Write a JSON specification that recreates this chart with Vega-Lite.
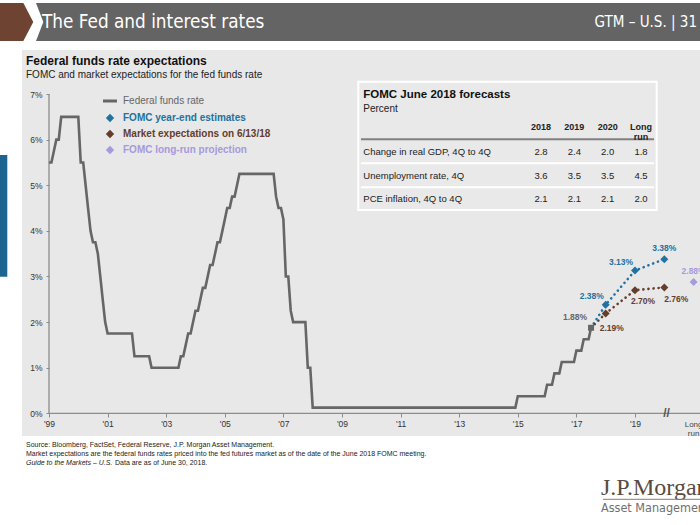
{
  "$schema": "https://vega.github.io/schema/vega-lite/v6.json",
  "width": 678,
  "height": 386,
  "autosize": {"type": "none"},
  "padding": {"left": 22, "top": 50, "right": 0, "bottom": 89},
  "background": "#ffffff",
  "config": {
    "font": "Liberation Sans",
    "view": {"fill": "#e8e8e8", "stroke": null}
  },
  "title": {
    "text": "Federal funds rate expectations",
    "subtitle": "FOMC and market expectations for the fed funds rate",
    "anchor": "start", "frame": "group", "orient": "top",
    "offset": -78, "dx": 4,
    "font": "Liberation Sans", "fontSize": 12, "fontWeight": "bold", "color": "#111111",
    "subtitleFont": "Liberation Sans", "subtitleFontSize": 10, "subtitleColor": "#222222", "subtitlePadding": 2
  },
  "datasets": {
    "rates": [
      {"series": "Federal funds rate", "kind": "actual", "t": 2000.0, "v": 0.055},
      {"series": "Federal funds rate", "kind": "actual", "t": 2000.083, "v": 0.055},
      {"series": "Federal funds rate", "kind": "actual", "t": 2000.167, "v": 0.0575},
      {"series": "Federal funds rate", "kind": "actual", "t": 2000.25, "v": 0.06},
      {"series": "Federal funds rate", "kind": "actual", "t": 2000.333, "v": 0.06},
      {"series": "Federal funds rate", "kind": "actual", "t": 2000.417, "v": 0.065},
      {"series": "Federal funds rate", "kind": "actual", "t": 2001.0, "v": 0.065},
      {"series": "Federal funds rate", "kind": "actual", "t": 2001.083, "v": 0.055},
      {"series": "Federal funds rate", "kind": "actual", "t": 2001.167, "v": 0.055},
      {"series": "Federal funds rate", "kind": "actual", "t": 2001.25, "v": 0.05},
      {"series": "Federal funds rate", "kind": "actual", "t": 2001.333, "v": 0.045},
      {"series": "Federal funds rate", "kind": "actual", "t": 2001.417, "v": 0.04},
      {"series": "Federal funds rate", "kind": "actual", "t": 2001.5, "v": 0.0375},
      {"series": "Federal funds rate", "kind": "actual", "t": 2001.583, "v": 0.0375},
      {"series": "Federal funds rate", "kind": "actual", "t": 2001.667, "v": 0.035},
      {"series": "Federal funds rate", "kind": "actual", "t": 2001.75, "v": 0.03},
      {"series": "Federal funds rate", "kind": "actual", "t": 2001.833, "v": 0.025},
      {"series": "Federal funds rate", "kind": "actual", "t": 2001.917, "v": 0.02},
      {"series": "Federal funds rate", "kind": "actual", "t": 2002.0, "v": 0.0175},
      {"series": "Federal funds rate", "kind": "actual", "t": 2002.833, "v": 0.0175},
      {"series": "Federal funds rate", "kind": "actual", "t": 2002.917, "v": 0.0125},
      {"series": "Federal funds rate", "kind": "actual", "t": 2003.417, "v": 0.0125},
      {"series": "Federal funds rate", "kind": "actual", "t": 2003.5, "v": 0.01},
      {"series": "Federal funds rate", "kind": "actual", "t": 2004.417, "v": 0.01},
      {"series": "Federal funds rate", "kind": "actual", "t": 2004.5, "v": 0.0125},
      {"series": "Federal funds rate", "kind": "actual", "t": 2004.583, "v": 0.0125},
      {"series": "Federal funds rate", "kind": "actual", "t": 2004.667, "v": 0.015},
      {"series": "Federal funds rate", "kind": "actual", "t": 2004.75, "v": 0.0175},
      {"series": "Federal funds rate", "kind": "actual", "t": 2004.833, "v": 0.0175},
      {"series": "Federal funds rate", "kind": "actual", "t": 2004.917, "v": 0.02},
      {"series": "Federal funds rate", "kind": "actual", "t": 2005.0, "v": 0.0225},
      {"series": "Federal funds rate", "kind": "actual", "t": 2005.083, "v": 0.0225},
      {"series": "Federal funds rate", "kind": "actual", "t": 2005.167, "v": 0.025},
      {"series": "Federal funds rate", "kind": "actual", "t": 2005.25, "v": 0.0275},
      {"series": "Federal funds rate", "kind": "actual", "t": 2005.333, "v": 0.0275},
      {"series": "Federal funds rate", "kind": "actual", "t": 2005.417, "v": 0.03},
      {"series": "Federal funds rate", "kind": "actual", "t": 2005.5, "v": 0.0325},
      {"series": "Federal funds rate", "kind": "actual", "t": 2005.583, "v": 0.0325},
      {"series": "Federal funds rate", "kind": "actual", "t": 2005.667, "v": 0.035},
      {"series": "Federal funds rate", "kind": "actual", "t": 2005.75, "v": 0.0375},
      {"series": "Federal funds rate", "kind": "actual", "t": 2005.833, "v": 0.0375},
      {"series": "Federal funds rate", "kind": "actual", "t": 2005.917, "v": 0.04},
      {"series": "Federal funds rate", "kind": "actual", "t": 2006.0, "v": 0.0425},
      {"series": "Federal funds rate", "kind": "actual", "t": 2006.083, "v": 0.045},
      {"series": "Federal funds rate", "kind": "actual", "t": 2006.167, "v": 0.045},
      {"series": "Federal funds rate", "kind": "actual", "t": 2006.25, "v": 0.0475},
      {"series": "Federal funds rate", "kind": "actual", "t": 2006.333, "v": 0.0475},
      {"series": "Federal funds rate", "kind": "actual", "t": 2006.417, "v": 0.05},
      {"series": "Federal funds rate", "kind": "actual", "t": 2006.5, "v": 0.0525},
      {"series": "Federal funds rate", "kind": "actual", "t": 2007.667, "v": 0.0525},
      {"series": "Federal funds rate", "kind": "actual", "t": 2007.75, "v": 0.0475},
      {"series": "Federal funds rate", "kind": "actual", "t": 2007.833, "v": 0.045},
      {"series": "Federal funds rate", "kind": "actual", "t": 2007.917, "v": 0.045},
      {"series": "Federal funds rate", "kind": "actual", "t": 2008.0, "v": 0.0425},
      {"series": "Federal funds rate", "kind": "actual", "t": 2008.083, "v": 0.03},
      {"series": "Federal funds rate", "kind": "actual", "t": 2008.167, "v": 0.03},
      {"series": "Federal funds rate", "kind": "actual", "t": 2008.25, "v": 0.0225},
      {"series": "Federal funds rate", "kind": "actual", "t": 2008.333, "v": 0.02},
      {"series": "Federal funds rate", "kind": "actual", "t": 2008.75, "v": 0.02},
      {"series": "Federal funds rate", "kind": "actual", "t": 2008.833, "v": 0.01},
      {"series": "Federal funds rate", "kind": "actual", "t": 2008.917, "v": 0.01},
      {"series": "Federal funds rate", "kind": "actual", "t": 2009.0, "v": 0.00125},
      {"series": "Federal funds rate", "kind": "actual", "t": 2015.917, "v": 0.00125},
      {"series": "Federal funds rate", "kind": "actual", "t": 2016.0, "v": 0.00375},
      {"series": "Federal funds rate", "kind": "actual", "t": 2016.917, "v": 0.00375},
      {"series": "Federal funds rate", "kind": "actual", "t": 2017.0, "v": 0.00625},
      {"series": "Federal funds rate", "kind": "actual", "t": 2017.167, "v": 0.00625},
      {"series": "Federal funds rate", "kind": "actual", "t": 2017.25, "v": 0.00875},
      {"series": "Federal funds rate", "kind": "actual", "t": 2017.417, "v": 0.00875},
      {"series": "Federal funds rate", "kind": "actual", "t": 2017.5, "v": 0.01125},
      {"series": "Federal funds rate", "kind": "actual", "t": 2017.917, "v": 0.01125},
      {"series": "Federal funds rate", "kind": "actual", "t": 2018.0, "v": 0.01375},
      {"series": "Federal funds rate", "kind": "actual", "t": 2018.167, "v": 0.01375},
      {"series": "Federal funds rate", "kind": "actual", "t": 2018.25, "v": 0.01625},
      {"series": "Federal funds rate", "kind": "actual", "t": 2018.417, "v": 0.01625},
      {"series": "Federal funds rate", "kind": "actual", "t": 2018.5, "v": 0.01875},
      {"series": "FOMC year-end estimates", "kind": "start", "t": 2018.5, "v": 0.01875},
      {"series": "FOMC year-end estimates", "kind": "estimate", "t": 2019, "v": 0.0238},
      {"series": "FOMC year-end estimates", "kind": "estimate", "t": 2020, "v": 0.0313},
      {"series": "FOMC year-end estimates", "kind": "estimate", "t": 2021, "v": 0.0338},
      {"series": "Market expectations on 6/13/18", "kind": "start", "t": 2018.5, "v": 0.01875},
      {"series": "Market expectations on 6/13/18", "kind": "estimate", "t": 2019, "v": 0.0219},
      {"series": "Market expectations on 6/13/18", "kind": "estimate", "t": 2020, "v": 0.027},
      {"series": "Market expectations on 6/13/18", "kind": "estimate", "t": 2021, "v": 0.0276},
      {"series": "FOMC long-run projection", "kind": "estimate", "t": 2022, "v": 0.0288}
    ],
    "forecasts": [
      {"row": "Change in real GDP, 4Q to 4Q", "col": "2018", "val": 2.8},
      {"row": "Change in real GDP, 4Q to 4Q", "col": "2019", "val": 2.4},
      {"row": "Change in real GDP, 4Q to 4Q", "col": "2020", "val": 2.0},
      {"row": "Change in real GDP, 4Q to 4Q", "col": "Long run", "val": 1.8},
      {"row": "Unemployment rate, 4Q", "col": "2018", "val": 3.6},
      {"row": "Unemployment rate, 4Q", "col": "2019", "val": 3.5},
      {"row": "Unemployment rate, 4Q", "col": "2020", "val": 3.5},
      {"row": "Unemployment rate, 4Q", "col": "Long run", "val": 4.5},
      {"row": "PCE inflation, 4Q to 4Q", "col": "2018", "val": 2.1},
      {"row": "PCE inflation, 4Q to 4Q", "col": "2019", "val": 2.1},
      {"row": "PCE inflation, 4Q to 4Q", "col": "2020", "val": 2.1},
      {"row": "PCE inflation, 4Q to 4Q", "col": "Long run", "val": 2.0}
    ]
  },
  "resolve": {"scale": {"x": "independent", "y": "independent"}},
  "layer": [
    {
      "layer": [
        {"data": {"values": [{}]}, "mark": {"type": "rect", "color": "#646464"},
         "encoding": {"x": {"datum": 1999.1468}, "x2": {"datum": 2022.4}, "y": {"datum": 0.089958}, "y2": {"datum": 0.081627}}},
        {"data": {"values": [{}]}, "mark": {"type": "point", "shape": "M-1,-1L0.895,-1L1.28,0L0.895,1L-1,1Z", "size": 1444, "filled": true, "color": "#ffffff", "opacity": 1, "strokeWidth": 0},
         "encoding": {"x": {"datum": 1998.9761}, "y": {"datum": 0.085792}}},
        {"data": {"values": [{}]}, "mark": {"type": "point", "shape": "M-1,-1L0.23,-1L0.75,0L0.23,1L-1,1Z", "size": 1444, "filled": true, "color": "#6e4331", "opacity": 1, "strokeWidth": 0},
         "encoding": {"x": {"datum": 1998.9761}, "y": {"datum": 0.085792}}},
        {"data": {"values": [{}]}, "mark": {"type": "text", "text": "The Fed and interest rates", "align": "left", "baseline": "middle", "font": "DejaVu Sans Condensed", "fontSize": 18.8, "color": "#ffffff"},
         "encoding": {"x": {"datum": 1999.7611}, "y": {"datum": 0.085792}}},
        {"data": {"values": [{}]}, "mark": {"type": "text", "text": "GTM – U.S.  |  31", "align": "right", "baseline": "middle", "font": "DejaVu Sans Condensed", "fontSize": 15, "color": "#ffffff"},
         "encoding": {"x": {"datum": 2022.116}, "y": {"datum": 0.085792}}},
        {"data": {"values": [{}]}, "mark": {"type": "rect", "color": "#1c6591"},
         "encoding": {"x": {"datum": 1998.3276}, "x2": {"datum": 1998.5768}, "y": {"datum": 0.056632}, "y2": {"datum": 0.02995}}},
        {"data": {"values": [{}]}, "mark": {"type": "rect", "fill": "#e9e9e9", "stroke": "#ffffff", "strokeWidth": 2},
         "encoding": {"x": {"datum": 2010.5563}, "x2": {"datum": 2020.7406}, "y": {"datum": 0.072703}, "y2": {"datum": 0.044574}}},
        {"data": {"values": [{}]}, "mark": {"type": "rule", "color": "#808080", "strokeWidth": 2},
         "encoding": {"x": {"datum": 2010.6485}, "x2": {"datum": 2020.6485}, "y": {"datum": 0.060075}}},
        {"data": {"values": [{}]}, "mark": {"type": "rule", "color": "#ffffff", "strokeWidth": 2},
         "encoding": {"x": {"datum": 2010.6485}, "x2": {"datum": 2020.6485}, "y": {"datum": 0.054813}}},
        {"data": {"values": [{}]}, "mark": {"type": "rule", "color": "#ffffff", "strokeWidth": 2},
         "encoding": {"x": {"datum": 2010.6485}, "x2": {"datum": 2020.6485}, "y": {"datum": 0.04955}}},
        {"data": {"values": [{}]}, "mark": {"type": "rule", "color": "#8c8c8c", "strokeWidth": 1.3},
         "encoding": {"x": {"datum": 2000}, "y": {"datum": 0}, "y2": {"datum": 0.07}}},
        {"data": {"values": [{}]}, "mark": {"type": "rule", "color": "#8c8c8c", "strokeWidth": 1.3},
         "encoding": {"x": {"datum": 2000}, "x2": {"datum": 2022.4}, "y": {"datum": 0}}},
        {"data": {"values": [{}]}, "mark": {"type": "text", "text": "//", "fontSize": 12, "fontWeight": "bold", "color": "#555555", "baseline": "middle"},
         "encoding": {"x": {"datum": 2021.075}, "y": {"datum": 0}}},
        {"data": {"values": [{}]}, "mark": {"type": "text", "text": ["Long", "run"], "fontSize": 8, "lineHeight": 9.5, "color": "#444444", "baseline": "middle"},
         "encoding": {"x": {"datum": 2022}, "y": {"datum": -0.002456}}},
        {"data": {"values": [{}]}, "mark": {"type": "text", "text": "Source: Bloomberg, FactSet, Federal Reserve, J.P. Morgan Asset Management.", "align": "left", "baseline": "middle", "fontSize": 7, "color": "#222222"},
         "encoding": {"x": {"datum": 1999.215}, "y": {"datum": -0.00695}}},
        {"data": {"values": [{}]}, "mark": {"type": "text", "text": "Market expectations are the federal funds rates priced into the fed futures market as of the date of the June 2018 FOMC meeting.", "align": "left", "baseline": "middle", "fontSize": 7, "color": "#222222"},
         "encoding": {"x": {"datum": 1999.215}, "y": {"datum": -0.008923}}},
        {"data": {"values": [{}]}, "mark": {"type": "text", "text": "Guide to the Markets – U.S.", "fontStyle": "italic", "align": "left", "baseline": "middle", "fontSize": 7, "color": "#222222"},
         "encoding": {"x": {"datum": 1999.215}, "y": {"datum": -0.010897}}},
        {"data": {"values": [{}]}, "mark": {"type": "text", "text": "Data are as of June 30, 2018.", "align": "left", "baseline": "middle", "fontSize": 7, "color": "#222222", "dx": 89},
         "encoding": {"x": {"datum": 1999.215}, "y": {"datum": -0.010897}}},
        {"data": {"values": [{}]}, "mark": {"type": "text", "text": "J.P.Morgan", "align": "left", "baseline": "middle", "font": "Liberation Serif", "fontSize": 24, "color": "#5b4b3f"},
         "encoding": {"x": {"datum": 2018.8396}, "y": {"datum": -0.016378}}},
        {"data": {"values": [{}]}, "mark": {"type": "rule", "color": "#8b7b70", "strokeWidth": 1},
         "encoding": {"x": {"datum": 2018.9078}, "x2": {"datum": 2022.4}, "y": {"datum": -0.018856}}},
        {"data": {"values": [{}]}, "mark": {"type": "text", "text": "Asset Management", "align": "left", "baseline": "middle", "font": "DejaVu Sans Condensed", "fontSize": 12.5, "color": "#707070"},
         "encoding": {"x": {"datum": 2018.8396}, "y": {"datum": -0.020763}}},
        {
          "data": {"name": "rates"},
          "encoding": {
            "x": {"field": "t", "type": "quantitative",
              "scale": {"domain": [1999.0785, 2022.2185], "nice": false, "zero": false},
              "axis": {"title": null, "orient": "bottom", "offset": -23, "values": [2000, 2002, 2004, 2006, 2008, 2010, 2012, 2014, 2016, 2018, 2020],
                "labelExpr": "\"'\" + substring('' + (datum.value - 1), 2)",
                "domain": false, "grid": false, "tickSize": 4, "tickColor": "#8c8c8c", "tickWidth": 1,
                "labelFontSize": 8.5, "labelColor": "#333333", "labelPadding": 2, "labelFlush": false, "labelOverlap": false}},
            "y": {"field": "v", "type": "quantitative",
              "scale": {"domain": [-0.004977, 0.079654], "nice": false, "zero": false},
              "axis": {"title": null, "orient": "left", "offset": -27, "values": [0, 0.01, 0.02, 0.03, 0.04, 0.05, 0.06, 0.07], "format": ".0%",
                "domain": false, "grid": false, "tickSize": 3, "tickColor": "#8c8c8c", "tickWidth": 1,
                "labelFontSize": 8.5, "labelColor": "#333333", "labelPadding": 4, "labelFlush": false, "labelOverlap": false}},
            "color": {"field": "series", "type": "nominal",
              "scale": {"domain": ["Federal funds rate", "FOMC year-end estimates", "Market expectations on 6/13/18", "FOMC long-run projection"],
                        "range": ["#666666", "#22729f", "#643d2d", "#a699dc"]},
              "legend": {"title": null, "orient": "none", "legendX": 83, "legendY": 46, "direction": "vertical", "padding": 0,
                "symbolSize": 196, "rowPadding": 6, "labelOffset": 8, "labelFontSize": 10, "labelFont": "Liberation Sans", "labelLimit": 300,
                "encode": {
                  "symbols": {"update": {
                    "shape": {"signal": "datum.value === 'Federal funds rate' ? 'stroke' : 'diamond'"},
                    "size": {"signal": "datum.value === 'Federal funds rate' ? 196 : 70"},
                    "fill": {"signal": "datum.value === 'Federal funds rate' ? 'transparent' : scale('color', datum.value)"},
                    "stroke": {"signal": "scale('color', datum.value)"},
                    "strokeWidth": {"signal": "datum.value === 'Federal funds rate' ? 3 : 0"},
                    "strokeDash": {"value": []},
                    "opacity": {"value": 1}
                  }},
                  "labels": {"update": {
                    "fill": {"signal": "scale('color', datum.value)"},
                    "fontWeight": {"signal": "datum.value === 'Federal funds rate' ? 'normal' : 'bold'"}
                  }}
                }}}
          },
          "layer": [
            {"transform": [{"filter": "datum.series == 'Federal funds rate'"}],
             "mark": {"type": "line", "strokeWidth": 2.6}},
            {"transform": [{"filter": "datum.series == 'FOMC year-end estimates' || datum.series == 'Market expectations on 6/13/18'"}],
             "mark": {"type": "line", "strokeWidth": 2.6, "strokeDash": [0.1, 5], "strokeCap": "round"}},
            {"transform": [{"filter": "datum.kind == 'estimate'"}],
             "mark": {"type": "point", "shape": "diamond", "filled": true, "size": 64, "opacity": 1}},
            {"transform": [{"filter": "datum.series == 'Federal funds rate'"}, {"joinaggregate": [{"op": "max", "field": "t", "as": "tmax"}]}, {"filter": "datum.t == datum.tmax"}],
             "mark": {"type": "point", "shape": "square", "filled": true, "size": 36, "opacity": 1},
             "encoding": {"color": {"value": "#666666"}}},
            {"transform": [{"filter": "datum.series == 'Federal funds rate'"}, {"joinaggregate": [{"op": "max", "field": "t", "as": "tmax"}]}, {"filter": "datum.t == datum.tmax"}],
             "mark": {"type": "text", "dx": -16, "dy": -11, "fontWeight": "bold", "fontSize": 8.5},
             "encoding": {"text": {"field": "v", "type": "quantitative", "format": ".2%"}}},
            {"transform": [{"filter": "datum.series == 'FOMC year-end estimates' && datum.kind == 'estimate' && datum.t < 2020.5"}],
             "mark": {"type": "text", "dx": -14, "dy": -9, "fontWeight": "bold", "fontSize": 8.5},
             "encoding": {"text": {"field": "v", "type": "quantitative", "format": ".2%"}}},
            {"transform": [{"filter": "(datum.series == 'FOMC year-end estimates' && datum.t > 2020.5) || datum.series == 'FOMC long-run projection'"}],
             "mark": {"type": "text", "dx": 0, "dy": -11, "fontWeight": "bold", "fontSize": 8.5},
             "encoding": {"text": {"field": "v", "type": "quantitative", "format": ".2%"}}},
            {"transform": [{"filter": "datum.series == 'Market expectations on 6/13/18' && datum.t == 2019"}],
             "mark": {"type": "text", "dx": 6, "dy": 15, "fontWeight": "bold", "fontSize": 8.5},
             "encoding": {"text": {"field": "v", "type": "quantitative", "format": ".2%"}}},
            {"transform": [{"filter": "datum.series == 'Market expectations on 6/13/18' && datum.t == 2020"}],
             "mark": {"type": "text", "dx": 8, "dy": 11, "fontWeight": "bold", "fontSize": 8.5},
             "encoding": {"text": {"field": "v", "type": "quantitative", "format": ".2%"}}},
            {"transform": [{"filter": "datum.series == 'Market expectations on 6/13/18' && datum.t == 2021"}],
             "mark": {"type": "text", "dx": 12, "dy": 12, "fontWeight": "bold", "fontSize": 8.5},
             "encoding": {"text": {"field": "v", "type": "quantitative", "format": ".2%"}}}
          ]
        }
      ]
    },
    {
      "data": {"name": "forecasts"},
      "encoding": {
        "x": {"field": "col", "type": "nominal", "scale": {"type": "point", "domain": ["2018", "2019", "2020", "Long run"], "range": [519, 619], "padding": 0}, "axis": null},
        "y": {"field": "row", "type": "nominal", "scale": {"type": "point", "domain": ["Change in real GDP, 4Q to 4Q", "Unemployment rate, 4Q", "PCE inflation, 4Q to 4Q"], "range": [102, 149], "padding": 0}, "axis": null}
      },
      "layer": [
        {"mark": {"type": "text", "fontSize": 9.5, "color": "#222222"},
         "encoding": {"text": {"field": "val", "type": "quantitative", "format": ".1f"}}},
        {"transform": [{"filter": "datum.col == '2018'"}],
         "mark": {"type": "text", "align": "left", "xOffset": -177.7, "fontSize": 9.5, "color": "#222222"},
         "encoding": {"x": {"datum": "2018"}, "text": {"field": "row", "type": "nominal"}}},
        {"transform": [{"filter": "datum.row == 'Change in real GDP, 4Q to 4Q'"}],
         "mark": {"type": "text", "fontSize": 9, "fontWeight": "bold", "lineBreak": " ", "lineHeight": 10, "yOffset": -25, "color": "#222222"},
         "encoding": {"y": {"datum": "Change in real GDP, 4Q to 4Q"}, "text": {"field": "col", "type": "nominal"}}},
        {"data": {"values": [{"label": "FOMC June 2018 forecasts"}]},
         "mark": {"type": "text", "align": "left", "xOffset": -177.7, "yOffset": -57, "fontSize": 11.5, "fontWeight": "bold", "color": "#111111"},
         "encoding": {"x": {"datum": "2018"}, "y": {"datum": "Change in real GDP, 4Q to 4Q"}, "text": {"field": "label", "type": "nominal"}}},
        {"data": {"values": [{"label": "Percent"}]},
         "mark": {"type": "text", "align": "left", "xOffset": -177.7, "yOffset": -43, "fontSize": 10, "color": "#222222"},
         "encoding": {"x": {"datum": "2018"}, "y": {"datum": "Change in real GDP, 4Q to 4Q"}, "text": {"field": "label", "type": "nominal"}}}
      ]
    }
  ]
}
